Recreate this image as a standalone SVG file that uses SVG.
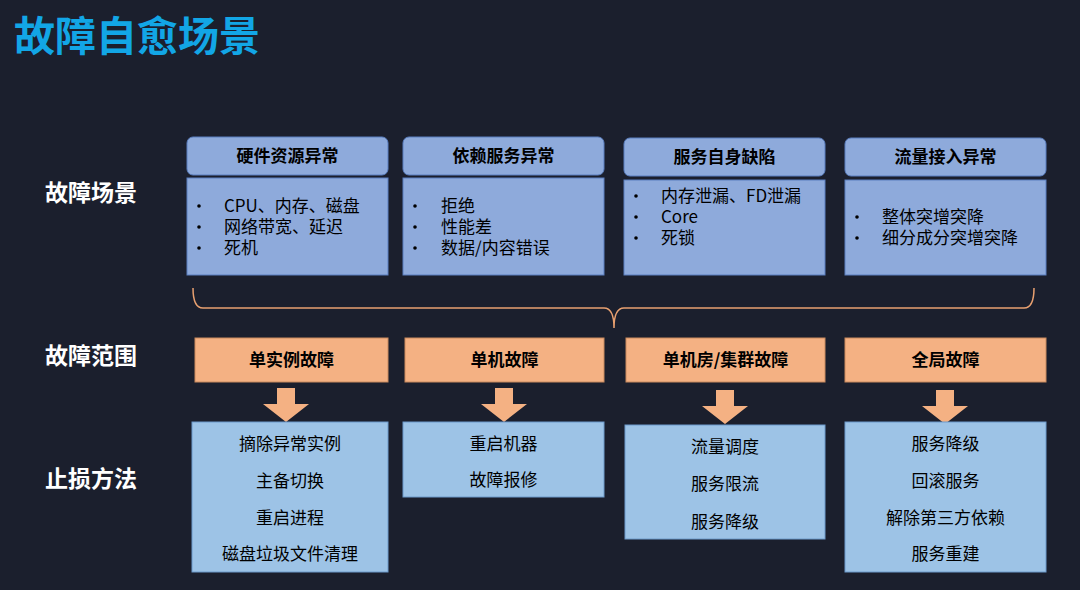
<svg xmlns="http://www.w3.org/2000/svg" width="1080" height="590" viewBox="0 0 1080 590">
<style>
text{font-family:"Noto Sans CJK SC","Liberation Sans",sans-serif;fill:#000}
.hd{fill:#8eaadb;stroke:#5b7fc0;stroke-width:1}
.ct{fill:#8eaadb;stroke:#5b7fc0;stroke-width:1}
.or{fill:#f4b183;stroke:#c98a5e;stroke-width:1}
.bt{fill:#9dc3e6;stroke:#6d9acb;stroke-width:1}
.h{font-size:17px;font-weight:bold;text-anchor:middle}
.i{font-size:17px}
.c{font-size:17px;text-anchor:middle}
.lb{font-size:23px;font-weight:bold;fill:#fff}
.ar{fill:#f4b183}
.bl{fill:#000}
</style>
<rect width="1080" height="590" fill="#1b1f2d"/>
<text x="14" y="51" style="font-size:41px;font-weight:bold;fill:#12a6e6">故障自愈场景</text>
<g id="labels">
<text class="lb" x="45" y="201">故障场景</text>
<text class="lb" x="45" y="364">故障范围</text>
<text class="lb" x="45" y="487">止损方法</text>
</g>
<g id="s1"><rect class="hd" x="187" y="137" width="201" height="38" rx="6"/><text class="h" x="287.5" y="162">硬件资源异常</text>
<rect class="ct" x="187" y="178" width="201" height="97"/>
<circle class="bl" cx="199" cy="206" r="1.8"/><text class="i" x="224" y="212">CPU、内存、磁盘</text>
<circle class="bl" cx="199" cy="227" r="1.8"/><text class="i" x="224" y="233">网络带宽、延迟</text>
<circle class="bl" cx="199" cy="248" r="1.8"/><text class="i" x="224" y="254">死机</text></g>
<g id="s2"><rect class="hd" x="403" y="137" width="201" height="38" rx="6"/><text class="h" x="503.5" y="162">依赖服务异常</text>
<rect class="ct" x="403" y="178" width="201" height="97"/>
<circle class="bl" cx="415" cy="206" r="1.8"/><text class="i" x="441" y="212">拒绝</text>
<circle class="bl" cx="415" cy="227" r="1.8"/><text class="i" x="441" y="233">性能差</text>
<circle class="bl" cx="415" cy="248" r="1.8"/><text class="i" x="441" y="254">数据/内容错误</text></g>
<g id="s3"><rect class="hd" x="624" y="138" width="201" height="38" rx="6"/><text class="h" x="724.5" y="163">服务自身缺陷</text>
<rect class="ct" x="624" y="180" width="201" height="95"/>
<circle class="bl" cx="636" cy="196" r="1.8"/><text class="i" x="661" y="202">内存泄漏、FD泄漏</text>
<circle class="bl" cx="636" cy="217" r="1.8"/><text class="i" x="661" y="223">Core</text>
<circle class="bl" cx="636" cy="238" r="1.8"/><text class="i" x="661" y="244">死锁</text></g>
<g id="s4"><rect class="hd" x="845" y="138" width="201" height="38" rx="6"/><text class="h" x="945.5" y="163">流量接入异常</text>
<rect class="ct" x="845" y="180" width="201" height="95"/>
<circle class="bl" cx="857" cy="217" r="1.8"/><text class="i" x="882" y="223">整体突增突降</text>
<circle class="bl" cx="857" cy="238" r="1.8"/><text class="i" x="882" y="244">细分成分突增突降</text></g>
<g id="connectors">
<path d="M193,288 Q193,308 203,308 L604,308 Q614,308 614,328 Q614,308 624,308 L1024,308 Q1034,308 1034,288" fill="none" stroke="#e8a070" stroke-width="1.5"/>
<path class="ar" d="M277,388 h18 v16 h14 l-23,18 l-23,-18 h14z"/>
<path class="ar" d="M495,388 h18 v16 h14 l-23,18 l-23,-18 h14z"/>
<path class="ar" d="M716,390 h18 v16 h14 l-23,18 l-23,-18 h14z"/>
<path class="ar" d="M936,390 h18 v16 h14 l-23,18 l-23,-18 h14z"/>
</g>
<g id="r1"><rect class="or" x="195" y="338" width="193" height="44"/><text class="h" x="291.5" y="366">单实例故障</text></g>
<g id="r2"><rect class="or" x="405" y="338" width="199" height="44"/><text class="h" x="504.5" y="366">单机故障</text></g>
<g id="r3"><rect class="or" x="626" y="338" width="199" height="44"/><text class="h" x="725.5" y="366">单机房/集群故障</text></g>
<g id="r4"><rect class="or" x="845" y="338" width="201" height="44"/><text class="h" x="945.5" y="366">全局故障</text></g>
<g id="m1"><rect class="bt" x="192" y="422" width="196" height="150"/>
<text class="c" x="290" y="450">摘除异常实例</text><text class="c" x="290" y="487">主备切换</text><text class="c" x="290" y="524">重启进程</text><text class="c" x="290" y="560">磁盘垃圾文件清理</text></g>
<g id="m2"><rect class="bt" x="403" y="422" width="201" height="75"/>
<text class="c" x="503.5" y="450">重启机器</text><text class="c" x="503.5" y="486">故障报修</text></g>
<g id="m3"><rect class="bt" x="625" y="425" width="200" height="114"/>
<text class="c" x="725" y="453">流量调度</text><text class="c" x="725" y="490">服务限流</text><text class="c" x="725" y="528">服务降级</text></g>
<g id="m4"><rect class="bt" x="845" y="422" width="201" height="150"/>
<text class="c" x="945.5" y="450">服务降级</text><text class="c" x="945.5" y="487">回滚服务</text><text class="c" x="945.5" y="524">解除第三方依赖</text><text class="c" x="945.5" y="560">服务重建</text></g>
</svg>
